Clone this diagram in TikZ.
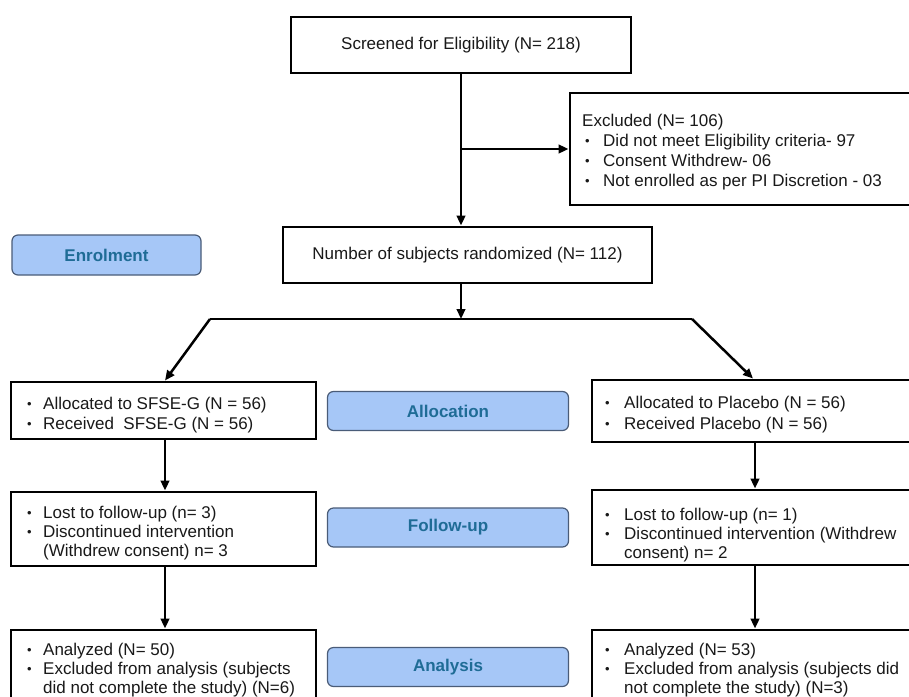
\documentclass[tikz,border=0pt]{standalone}
\usepackage{fontspec}
\setmainfont{Liberation Sans}
\usetikzlibrary{arrows.meta}
\definecolor{lblfill}{RGB}{166,199,247}
\definecolor{lbldraw}{RGB}{74,92,120}
\definecolor{lbltext}{RGB}{31,108,150}
\definecolor{maintext}{RGB}{25,25,25}
\newcommand\bul{\raisebox{1.0pt}{\fontsize{13}{13}\selectfont\textbullet}}
\newcommand\bulL{\makebox[16pt][l]{\bul}}
\newcommand\bulR{\makebox[19pt][l]{\bul}}
\newcommand\bulE{\makebox[18pt][l]{\bul}}
\begin{document}
\begin{tikzpicture}[x=1pt,y=-1pt,
  box/.style={draw=black,line width=2.9pt,fill=white,inner sep=0pt},
  lbl/.style={draw=lbldraw,line width=1.2pt,fill=lblfill,rounded corners=6pt,
    minimum width=241pt,minimum height=39pt,inner sep=0pt,
    text=lbltext,font=\fontsize{17}{20}\selectfont\bfseries},
  txt/.style={font=\fontsize{17}{20}\selectfont,inner sep=0pt,text=maintext},
  tl/.style={txt,anchor=base west},
  conn/.style={line width=2.5pt,draw=black},
  arr/.style={conn,-{Triangle[length=10pt,width=8.5pt]}},
]
\useasboundingbox (0,0) rectangle (909,696);
\clip (0,0) rectangle (909,696);
\fill[white] (0,0) rectangle (909,696);

% main boxes
\node[box,txt,minimum width=340pt,minimum height=56pt] (screen) at (461,45) {Screened for Eligibility (N= 218)};
\node[box,minimum width=360pt,minimum height=112pt] (excl) at (750,149) {};
\node[box,txt,minimum width=369pt,minimum height=56pt] (rand) at (467.5,255) {Number of subjects randomized (N= 112)};

\node[box,minimum width=305pt,minimum height=57pt] (l1) at (163.5,410.5) {};
\node[box,minimum width=305pt,minimum height=74pt] (l2) at (163.5,529) {};
\node[box,minimum width=305pt,minimum height=90pt] (l3) at (163.5,675) {};

\node[box,minimum width=338pt,minimum height=62pt] (r1) at (761,411) {};
\node[box,minimum width=338pt,minimum height=75pt] (r2) at (761,527.5) {};
\node[box,minimum width=338pt,minimum height=90pt] (r3) at (761,675) {};

% label boxes
\node[lbl,minimum width=189pt,minimum height=40pt] (enrol) at (106.5,255) {Enrolment};
\node[lbl] (alloc) at (448,411) {Allocation};
\node[lbl] (follow) at (448,527.5) {Follow-up};
\node[lbl] (anal) at (448,667) {Analysis};

% text lines
\node[tl] (e0) at (582,126) {Excluded (N= 106)};
\node[tl] (e1) at (585,146) {\bulE Did not meet Eligibility criteria- 97};
\node[tl] (e2) at (585,166) {\bulE Consent Withdrew- 06};
\node[tl] (e3) at (585,186) {\bulE Not enrolled as per PI Discretion - 03};

\node[tl] (l1a) at (27,409) {\bulL Allocated to SFSE-G (N = 56)};
\node[tl] (l1b) at (27,429) {\bulL Received\ \ SFSE-G (N = 56)};
\node[tl] (r1a) at (605,408) {\bulR Allocated to Placebo (N = 56)};
\node[tl] (r1b) at (605,429) {\bulR Received Placebo (N = 56)};

\node[tl] (l2a) at (27,518) {\bulL Lost to follow-up (n= 3)};
\node[tl] (l2b) at (27,537) {\bulL Discontinued intervention};
\node[tl] (l2c) at (27,556) {\hspace*{16pt}(Withdrew consent) n= 3};
\node[tl] (r2a) at (605,520) {\bulR Lost to follow-up (n= 1)};
\node[tl] (r2b) at (605,539) {\bulR Discontinued intervention (Withdrew};
\node[tl] (r2c) at (605,558) {\hspace*{19pt}consent) n= 2};

\node[tl] (l3a) at (27,655) {\bulL Analyzed (N= 50)};
\node[tl] (l3b) at (27,674) {\bulL Excluded from analysis (subjects};
\node[tl] (l3c) at (27,693) {\hspace*{16pt}did not complete the study) (N=6)};
\node[tl] (r3a) at (605,655) {\bulR Analyzed (N= 53)};
\node[tl] (r3b) at (605,674) {\bulR Excluded from analysis (subjects did};
\node[tl] (r3c) at (605,693) {\hspace*{19pt}not complete the study) (N=3)};

% connectors
\coordinate (hl) at (210,319);
\coordinate (hr) at (692,319);
\draw[arr] (screen.south) -- (screen.south |- rand.north);
\draw[arr] (screen.south |- excl.west) -- (excl.west);
\draw[arr] (screen.south |- rand.south) -- (screen.south |- hl);
\draw[conn] (hl) -- (hr);
\draw[arr] (hl) -- ([xshift=1.5pt]l1.north);
\draw[arr] (hr) -- ([xshift=-8pt]r1.north);
\draw[arr] ([xshift=1.5pt]l1.south) -- ([xshift=1.5pt]l2.north);
\draw[arr] ([xshift=1.5pt]l2.south) -- ([xshift=1.5pt]l3.north);
\draw[arr] ([xshift=-6pt]r1.south) -- ([xshift=-6pt]r2.north);
\draw[arr] ([xshift=-6pt]r2.south) -- ([xshift=-6pt]r3.north);
\end{tikzpicture}
\end{document}
